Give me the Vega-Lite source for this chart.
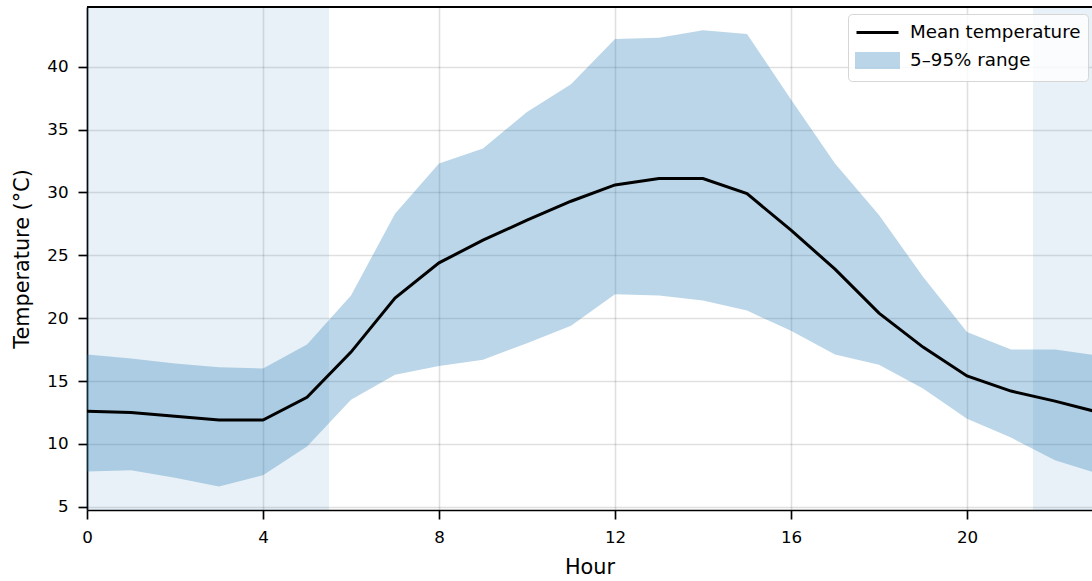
{
  "$schema": "https://vega.github.io/schema/vega-lite/v6.json",
  "width": 1005,
  "height": 503,
  "autosize": {"type": "none"},
  "padding": {"left": 87, "top": 7, "right": 0, "bottom": 71},
  "background": "white",
  "config": {
    "font": "DejaVu Sans",
    "view": {"stroke": null},
    "axis": {
      "domainColor": "#000000",
      "domainWidth": 1.67,
      "tickColor": "#000000",
      "tickWidth": 1.67,
      "tickSize": 9,
      "labelFont": "DejaVu Sans",
      "labelFontSize": 16.7,
      "labelColor": "#000000",
      "labelPadding": 10,
      "labelFlush": false,
      "titleFont": "DejaVu Sans",
      "titleFontSize": 20.8,
      "titleFontWeight": "normal",
      "titleColor": "#000000",
      "gridColor": "#000000",
      "gridOpacity": 0.12,
      "gridWidth": 1.6
    },
    "axisX": {"titlePadding": 12},
    "axisY": {"titlePadding": 14},
    "legend": {
      "orient": "none",
      "legendX": 761,
      "legendY": 7,
      "padding": 7,
      "fillColor": "rgba(255,255,255,0.8)",
      "strokeColor": "#d6d6d6",
      "cornerRadius": 4,
      "labelFont": "DejaVu Sans",
      "labelFontSize": 18.3,
      "labelColor": "#000000",
      "labelLimit": 300,
      "symbolSize": 400,
      "labelOffset": 32,
      "rowPadding": 6,
      "symbolStrokeWidth": 3
    }
  },
  "data": {
    "values": [
      {"hour": 0, "mean": 12.6, "lo": 7.8, "hi": 17.1},
      {"hour": 1, "mean": 12.5, "lo": 7.9, "hi": 16.8},
      {"hour": 2, "mean": 12.2, "lo": 7.3, "hi": 16.4},
      {"hour": 3, "mean": 11.9, "lo": 6.6, "hi": 16.1},
      {"hour": 4, "mean": 11.9, "lo": 7.5, "hi": 16.0},
      {"hour": 5, "mean": 13.7, "lo": 9.8, "hi": 17.9},
      {"hour": 6, "mean": 17.3, "lo": 13.5, "hi": 21.8},
      {"hour": 7, "mean": 21.6, "lo": 15.5, "hi": 28.3},
      {"hour": 8, "mean": 24.4, "lo": 16.2, "hi": 32.3},
      {"hour": 9, "mean": 26.2, "lo": 16.7, "hi": 33.5},
      {"hour": 10, "mean": 27.8, "lo": 18.0, "hi": 36.4},
      {"hour": 11, "mean": 29.3, "lo": 19.4, "hi": 38.6},
      {"hour": 12, "mean": 30.6, "lo": 21.9, "hi": 42.2},
      {"hour": 13, "mean": 31.1, "lo": 21.8, "hi": 42.3},
      {"hour": 14, "mean": 31.1, "lo": 21.4, "hi": 42.9},
      {"hour": 15, "mean": 29.9, "lo": 20.6, "hi": 42.6},
      {"hour": 16, "mean": 27.0, "lo": 19.0, "hi": 37.4},
      {"hour": 17, "mean": 23.9, "lo": 17.1, "hi": 32.3},
      {"hour": 18, "mean": 20.4, "lo": 16.3, "hi": 28.2},
      {"hour": 19, "mean": 17.7, "lo": 14.4, "hi": 23.3},
      {"hour": 20, "mean": 15.4, "lo": 12.0, "hi": 18.9},
      {"hour": 21, "mean": 14.2, "lo": 10.5, "hi": 17.5},
      {"hour": 22, "mean": 13.4, "lo": 8.7, "hi": 17.5},
      {"hour": 23, "mean": 12.5, "lo": 7.6, "hi": 17.0}
    ]
  },
  "layer": [
    {
      "data": {"values": [{"start": 0, "end": 5.5}, {"start": 21.5, "end": 23}]},
      "mark": {"type": "rect", "color": "#1f77b4", "opacity": 0.1, "clip": true},
      "encoding": {
        "x": {"field": "start", "type": "quantitative", "title": "Hour",
              "scale": {"domain": [0, 22.841], "nice": false, "zero": false},
              "axis": {"values": [0, 4, 8, 12, 16, 20], "title": "Hour"}},
        "x2": {"field": "end"}
      }
    },
    {
      "mark": {"type": "area", "opacity": 0.3, "clip": true},
      "encoding": {
        "x": {"field": "hour", "type": "quantitative", "title": "Hour",
              "scale": {"domain": [0, 22.841], "nice": false, "zero": false},
              "axis": {"values": [0, 4, 8, 12, 16, 20], "title": "Hour"}},
        "y": {"field": "lo", "type": "quantitative", "title": "Temperature (°C)",
              "scale": {"domain": [4.74, 44.75], "nice": false, "zero": false},
              "axis": {"values": [5, 10, 15, 20, 25, 30, 35, 40], "title": "Temperature (°C)"}},
        "y2": {"field": "hi"},
        "color": {
          "datum": "5–95% range",
          "scale": {"domain": ["Mean temperature", "5–95% range"], "range": ["#000000", "#1f77b4"]},
          "legend": {
            "title": null,
            "encode": {
              "symbols": {
                "update": {
                  "shape": {"signal": "datum.value === 'Mean temperature' ? 'M-1,0H3.2' : 'M-1,-0.7H3.2V0.7H-1Z'"},
                  "fill": {"signal": "datum.value === 'Mean temperature' ? 'transparent' : '#1f77b4'"},
                  "stroke": {"signal": "datum.value === 'Mean temperature' ? '#000000' : 'transparent'"},
                  "strokeWidth": {"value": 3},
                  "opacity": {"signal": "datum.value === 'Mean temperature' ? 1 : 0.3"},
                  "fillOpacity": {"value": 1},
                  "strokeOpacity": {"value": 1}
                }
              }
            }
          }
        }
      }
    },
    {
      "mark": {"type": "line", "strokeWidth": 3, "clip": true},
      "encoding": {
        "x": {"field": "hour", "type": "quantitative", "title": "Hour"},
        "y": {"field": "mean", "type": "quantitative", "title": "Temperature (°C)"},
        "color": {
          "datum": "Mean temperature",
          "legend": {
            "title": null,
            "encode": {
              "symbols": {
                "update": {
                  "shape": {"signal": "datum.value === 'Mean temperature' ? 'M-1,0H3.2' : 'M-1,-0.7H3.2V0.7H-1Z'"},
                  "fill": {"signal": "datum.value === 'Mean temperature' ? 'transparent' : '#1f77b4'"},
                  "stroke": {"signal": "datum.value === 'Mean temperature' ? '#000000' : 'transparent'"},
                  "strokeWidth": {"value": 3},
                  "opacity": {"signal": "datum.value === 'Mean temperature' ? 1 : 0.3"},
                  "fillOpacity": {"value": 1},
                  "strokeOpacity": {"value": 1}
                }
              }
            }
          }
        }
      }
    },
    {
      "mark": {"type": "rule", "color": "#000000", "strokeWidth": 1.67},
      "encoding": {
        "y": {"datum": 44.75, "type": "quantitative", "title": "Temperature (°C)"}
      }
    }
  ]
}
